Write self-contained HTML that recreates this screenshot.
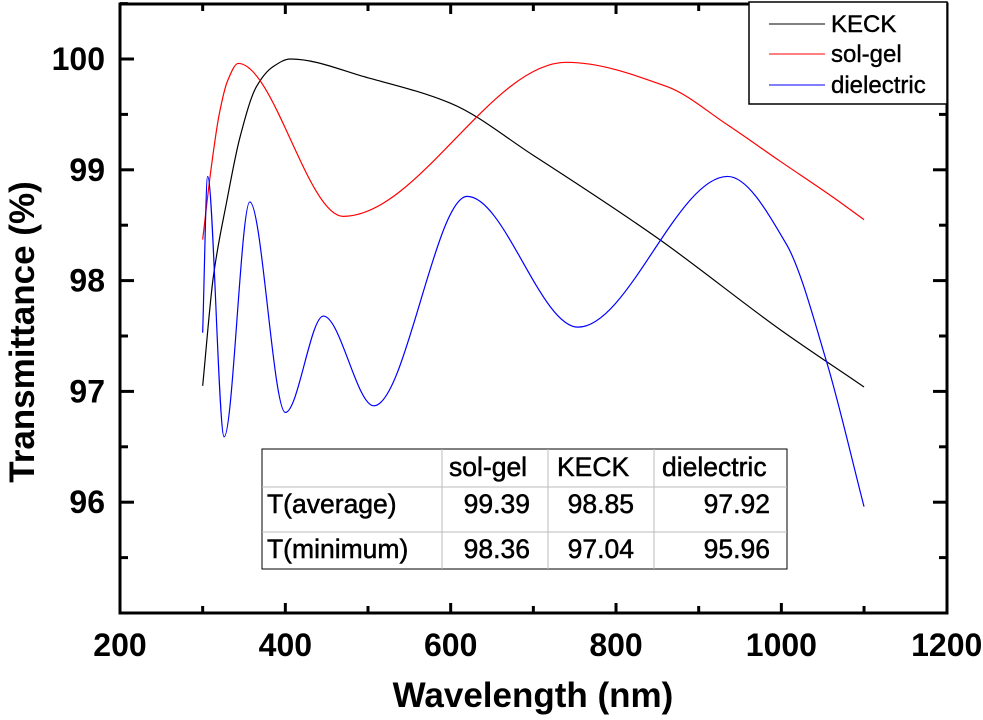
<!DOCTYPE html>
<html><head><meta charset="utf-8"><style>
body{margin:0;background:#fff;}
svg{display:block;font-family:"Liberation Sans",Arial,sans-serif;}
</style></head><body>
<svg id="chart" width="983" height="720" viewBox="0 0 983 720">
<g id="marks"></g>
<rect x="120" y="4" width="827" height="609" fill="none" stroke="#000" stroke-width="3"/>
<g id="axes"></g>
<text x="34" y="332" transform="rotate(-90 34 332)" text-anchor="middle" font-size="35" font-weight="bold">Transmittance (%)</text>
<text x="533" y="707" text-anchor="middle" font-size="35" font-weight="bold">Wavelength (nm)</text>
<g>
<rect x="749" y="2" width="198" height="102" fill="#fff" stroke="#000" stroke-width="1.5"/>
<line x1="769" y1="24" x2="825" y2="24" stroke="#000"/>
<text x="831" y="32" font-size="24" stroke="#000" stroke-width="0.4">KECK</text>
<line x1="769" y1="54" x2="825" y2="54" stroke="#f00"/>
<text x="831" y="62" font-size="24" stroke="#000" stroke-width="0.4">sol-gel</text>
<line x1="769" y1="85" x2="825" y2="85" stroke="#00f"/>
<text x="831" y="93" font-size="24" stroke="#000" stroke-width="0.4">dielectric</text>
</g>
<g font-size="26.5">
<rect x="262" y="449" width="525" height="120" fill="#fff" stroke="#000" stroke-width="1"/>
<line x1="262" y1="487" x2="787" y2="487" stroke="#bbb"/>
<line x1="262" y1="532" x2="787" y2="532" stroke="#bbb"/>
<line x1="442" y1="449" x2="442" y2="569" stroke="#bbb"/>
<line x1="548" y1="449" x2="548" y2="569" stroke="#bbb"/>
<line x1="654" y1="449" x2="654" y2="569" stroke="#bbb"/>
<g stroke="#000" stroke-width="0.5">
<text x="449" y="476">sol-gel</text>
<text x="557" y="476">KECK</text>
<text x="662" y="476">dielectric</text>
<text x="267" y="513">T(average)</text>
<text x="267" y="558">T(minimum)</text>
<g text-anchor="end">
<text x="530" y="513">99.39</text><text x="634" y="513">98.85</text><text x="770" y="513">97.92</text>
<text x="530" y="558">98.36</text><text x="634" y="558">97.04</text><text x="770" y="558">95.96</text>
</g>
</g>
</g>
</svg>
<script>
const xTicks=[200,400,600,800,1000,1200];
const yTicks=[96,97,98,99,100];
const keckX=[300,313,329,345,365,385,406,500,600,700,849,1000,1100];
const keckY=[97.05,98.04,98.71,99.29,99.75,99.93,100.0,99.83,99.6,99.13,98.39,97.55,97.04];
const solX=[300,310,320,330,343,470,740,862,934,998,1063,1100];
const solY=[98.37,99.0,99.5,99.8,99.96,98.58,99.97,99.75,99.41,99.08,98.75,98.55];
const dieX=[300,306,326,357,400,446,507,620,754,935,1006,1055,1100];
const dieY=[97.53,98.94,96.59,98.71,96.81,97.68,96.87,98.76,97.58,98.94,98.33,97.26,95.96];
const sx=v=>120+(v-200)*0.8267;
const sy=v=>59+(100-v)*110.8;
const NS='http://www.w3.org/2000/svg';
const axes=document.getElementById('axes');
xTicks.forEach(t=>{
  const x=sx(t);
  if(t>200&&t<1200){
    const l=document.createElementNS(NS,'line');
    l.setAttribute('x1',x);l.setAttribute('x2',x);l.setAttribute('y1',613);l.setAttribute('y2',603);
    l.setAttribute('stroke','#000');l.setAttribute('stroke-width','3');
    
    
    axes.appendChild(l);
    const l2=document.createElementNS(NS,'line');
    l2.setAttribute('x1',x);l2.setAttribute('x2',x);l2.setAttribute('y1',4);l2.setAttribute('y2',14);
    l2.setAttribute('stroke','#000');l2.setAttribute('stroke-width','3');
    
    
    axes.appendChild(l2);
  }
  const tx=document.createElementNS(NS,'text');
  tx.setAttribute('x',x);tx.setAttribute('y',656);tx.setAttribute('text-anchor','middle');
  tx.setAttribute('font-size','32');tx.setAttribute('font-weight','bold');
  tx.textContent=t;
  
  
  axes.appendChild(tx);
});
for(let t=300;t<1200;t+=200){
  [[613,606],[4,11]].forEach(p=>{
    const l=document.createElementNS(NS,'line');
    l.setAttribute('x1',sx(t));l.setAttribute('x2',sx(t));l.setAttribute('y1',p[0]);l.setAttribute('y2',p[1]);
    l.setAttribute('stroke','#000');l.setAttribute('stroke-width','3');
    
    
    axes.appendChild(l);
  });
}
for(let v=95.5;v<=100.5;v+=0.5){
  const y=sy(v);const major=Number.isInteger(v);
  [[120,120+(major?14:8)],[947,947-(major?14:8)]].forEach(p=>{
    const l=document.createElementNS(NS,'line');
    l.setAttribute('x1',p[0]);l.setAttribute('x2',p[1]);l.setAttribute('y1',y);l.setAttribute('y2',y);
    l.setAttribute('stroke','#000');l.setAttribute('stroke-width','3');
    
    
    axes.appendChild(l);
  });
}
yTicks.forEach(t=>{
  const tx=document.createElementNS(NS,'text');
  tx.setAttribute('x',105);tx.setAttribute('y',sy(t)+11);tx.setAttribute('text-anchor','end');
  tx.setAttribute('font-size','32');tx.setAttribute('font-weight','bold');
  tx.textContent=t;
  
  
  axes.appendChild(tx);
});
function monoPath(xs,ys){
  const n=xs.length,X=xs.map(sx),Y=ys.map(sy);
  const d=[],m=[];
  for(let i=0;i<n-1;i++)d.push((Y[i+1]-Y[i])/(X[i+1]-X[i]));
  m[0]=d[0];m[n-1]=d[n-2];
  for(let i=1;i<n-1;i++){
    if(d[i-1]*d[i]<=0)m[i]=0;
    else{const h0=X[i]-X[i-1],h1=X[i+1]-X[i];const w1=2*h1+h0,w2=h1+2*h0;m[i]=(w1+w2)/(w1/d[i-1]+w2/d[i]);}
  }
  let p='M'+X[0].toFixed(2)+','+Y[0].toFixed(2);
  for(let i=0;i<n-1;i++){
    const h=(X[i+1]-X[i])/3;
    p+=' C'+(X[i]+h).toFixed(2)+','+(Y[i]+m[i]*h).toFixed(2)+' '+(X[i+1]-h).toFixed(2)+','+(Y[i+1]-m[i+1]*h).toFixed(2)+' '+X[i+1].toFixed(2)+','+Y[i+1].toFixed(2);
  }
  return p;
}
const marks=document.getElementById('marks');
[[keckX,keckY,'#000','keck-line'],[solX,solY,'#f00','solgel-line'],[dieX,dieY,'#00f','dielectric-line']].forEach(s=>{
  const p=document.createElementNS(NS,'path');
  p.setAttribute('d',monoPath(s[0],s[1]));
  p.setAttribute('fill','none');p.setAttribute('stroke',s[2]);p.setAttribute('stroke-width','1.2');
  
  
  marks.appendChild(p);
});
</script>
</body></html>
